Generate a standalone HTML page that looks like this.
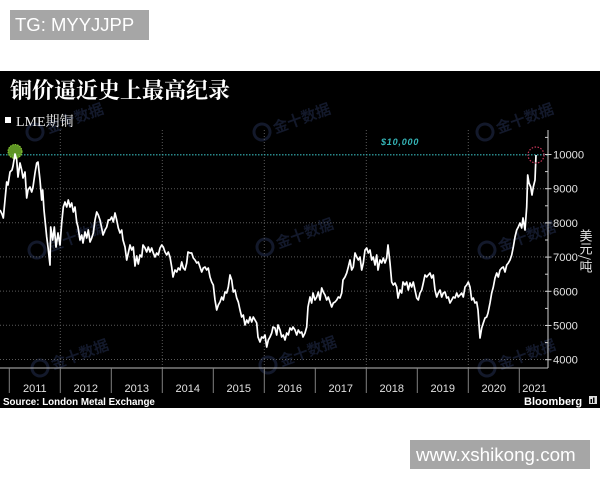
<!DOCTYPE html>
<html>
<head>
<meta charset="utf-8">
<style>
  html,body{margin:0;padding:0;background:#fff;}
  body{width:600px;height:480px;position:relative;overflow:hidden;}
  .tg{position:absolute;left:10px;top:10px;width:139px;height:30px;background:#a6a6a6;color:#fff;
      font-family:"Liberation Sans",sans-serif;font-size:18.5px;line-height:30px;box-sizing:border-box;padding-left:5px;white-space:nowrap;}
  .www{position:absolute;left:410px;top:440px;width:180px;height:29px;background:#a6a6a6;color:#fff;
      font-family:"Liberation Sans",sans-serif;font-size:18.8px;line-height:29px;box-sizing:border-box;padding-left:6px;white-space:nowrap;}
  svg{position:absolute;left:0;top:0;}
</style>
</head>
<body>
<div class="tg">TG: MYYJJPP</div>
<svg width="600" height="480" viewBox="0 0 600 480" xmlns="http://www.w3.org/2000/svg">
  <rect x="0" y="71" width="600" height="337" fill="#000"/>

  <!-- watermarks -->
  <g fill="#161c30" stroke="none" font-family="'Noto Sans CJK SC',sans-serif" font-size="15" font-weight="700" opacity="0.9">
    <g transform="translate(35,132) rotate(-20)"><circle cx="0" cy="0" r="8" fill="none" stroke="#161c30" stroke-width="3"/><text x="12" y="6">金十数据</text></g>
    <g transform="translate(262,132) rotate(-20)"><circle cx="0" cy="0" r="8" fill="none" stroke="#161c30" stroke-width="3"/><text x="12" y="6">金十数据</text></g>
    <g transform="translate(485,132) rotate(-20)"><circle cx="0" cy="0" r="8" fill="none" stroke="#161c30" stroke-width="3"/><text x="12" y="6">金十数据</text></g>
    <g transform="translate(37,250) rotate(-20)"><circle cx="0" cy="0" r="8" fill="none" stroke="#161c30" stroke-width="3"/><text x="12" y="6">金十数据</text></g>
    <g transform="translate(265,247) rotate(-20)"><circle cx="0" cy="0" r="8" fill="none" stroke="#161c30" stroke-width="3"/><text x="12" y="6">金十数据</text></g>
    <g transform="translate(487,250) rotate(-20)"><circle cx="0" cy="0" r="8" fill="none" stroke="#161c30" stroke-width="3"/><text x="12" y="6">金十数据</text></g>
    <g transform="translate(40,368) rotate(-20)"><circle cx="0" cy="0" r="8" fill="none" stroke="#161c30" stroke-width="3"/><text x="12" y="6">金十数据</text></g>
    <g transform="translate(268,365) rotate(-20)"><circle cx="0" cy="0" r="8" fill="none" stroke="#161c30" stroke-width="3"/><text x="12" y="6">金十数据</text></g>
    <g transform="translate(487,368) rotate(-20)"><circle cx="0" cy="0" r="8" fill="none" stroke="#161c30" stroke-width="3"/><text x="12" y="6">金十数据</text></g>
  </g>

  <!-- title -->
  <text x="10" y="98" fill="#fff" font-family="'Noto Serif CJK SC','Noto Sans CJK SC',serif" font-weight="700" font-size="22">铜价逼近史上最高纪录</text>
  <!-- legend -->
  <rect x="5" y="117" width="6" height="6" fill="#fff"/>
  <text x="16" y="126" fill="#eee" font-family="'Liberation Serif','Noto Serif CJK SC',serif" font-size="14">LME期铜</text>

  <!-- grid horizontal -->
  <g stroke="#5a5a5a" stroke-width="1" stroke-dasharray="1 2">
    <line x1="0" y1="188.7" x2="548" y2="188.7"/>
    <line x1="0" y1="222.7" x2="548" y2="222.7"/>
    <line x1="0" y1="256.9" x2="548" y2="256.9"/>
    <line x1="0" y1="291.1" x2="548" y2="291.1"/>
    <line x1="0" y1="325.3" x2="548" y2="325.3"/>
    <line x1="0" y1="359.5" x2="548" y2="359.5"/>
    <line x1="60.3" y1="130" x2="60.3" y2="368"/>
    <line x1="162.3" y1="130" x2="162.3" y2="368"/>
    <line x1="264.3" y1="130" x2="264.3" y2="368"/>
    <line x1="366.3" y1="130" x2="366.3" y2="368"/>
    <line x1="468.3" y1="130" x2="468.3" y2="368"/>
  </g>
  <!-- 10000 teal line -->
  <line x1="0" y1="154.8" x2="548" y2="154.8" stroke="#35b6b8" stroke-width="1.2" stroke-dasharray="1.5 1.5"/>
  <text x="381" y="145" fill="#35b6b8" font-family="'Liberation Sans',sans-serif" font-size="9" font-weight="700" font-style="italic" letter-spacing="0.8">$10,000</text>

  <!-- axes -->
  <line x1="548" y1="130" x2="548" y2="368" stroke="#cfcfcf" stroke-width="1"/>
  <line x1="0" y1="368" x2="548" y2="368" stroke="#bdbdbd" stroke-width="1"/>
  <g stroke="#cfcfcf" stroke-width="1">
    <line x1="545" y1="154.5" x2="551.5" y2="154.5"/>
    <line x1="545" y1="188.7" x2="551.5" y2="188.7"/>
    <line x1="545" y1="222.9" x2="551.5" y2="222.9"/>
    <line x1="545" y1="257.1" x2="551.5" y2="257.1"/>
    <line x1="545" y1="291.3" x2="551.5" y2="291.3"/>
    <line x1="545" y1="325.5" x2="551.5" y2="325.5"/>
    <line x1="545" y1="359.7" x2="551.5" y2="359.7"/>
    <line x1="545" y1="137.4" x2="548" y2="137.4"/>
    <line x1="545" y1="171.6" x2="548" y2="171.6"/>
    <line x1="545" y1="205.8" x2="548" y2="205.8"/>
    <line x1="545" y1="240" x2="548" y2="240"/>
    <line x1="545" y1="274.2" x2="548" y2="274.2"/>
    <line x1="545" y1="308.4" x2="548" y2="308.4"/>
    <line x1="545" y1="342.6" x2="548" y2="342.6"/>
  </g>
  <g fill="#e2e2e2" font-family="'Liberation Sans',sans-serif" font-size="11.2">
    <text x="553" y="158.5">10000</text>
    <text x="553" y="192.7">9000</text>
    <text x="553" y="226.9">8000</text>
    <text x="553" y="261.1">7000</text>
    <text x="553" y="295.3">6000</text>
    <text x="553" y="329.5">5000</text>
    <text x="553" y="363.7">4000</text>
  </g>
  <text x="586" y="229" fill="#e2e2e2" font-family="'Noto Sans CJK SC',sans-serif" font-size="13" style="writing-mode:vertical-rl;" text-anchor="start">美元/吨</text>

  <!-- year ticks -->
  <g stroke="#808080" stroke-width="1">
    <line x1="9.3" y1="368" x2="9.3" y2="393"/>
    <line x1="60.3" y1="368" x2="60.3" y2="393"/>
    <line x1="111.3" y1="368" x2="111.3" y2="393"/>
    <line x1="162.3" y1="368" x2="162.3" y2="393"/>
    <line x1="213.3" y1="368" x2="213.3" y2="393"/>
    <line x1="264.3" y1="368" x2="264.3" y2="393"/>
    <line x1="315.3" y1="368" x2="315.3" y2="393"/>
    <line x1="366.3" y1="368" x2="366.3" y2="393"/>
    <line x1="417.3" y1="368" x2="417.3" y2="393"/>
    <line x1="468.3" y1="368" x2="468.3" y2="393"/>
    <line x1="519.3" y1="368" x2="519.3" y2="393"/>
  </g>
  <g fill="#e2e2e2" font-family="'Liberation Sans',sans-serif" font-size="11" text-anchor="middle">
    <text x="34.8" y="392">2011</text>
    <text x="85.8" y="392">2012</text>
    <text x="136.8" y="392">2013</text>
    <text x="187.8" y="392">2014</text>
    <text x="238.8" y="392">2015</text>
    <text x="289.8" y="392">2016</text>
    <text x="340.8" y="392">2017</text>
    <text x="391.8" y="392">2018</text>
    <text x="442.8" y="392">2019</text>
    <text x="493.8" y="392">2020</text>
    <text x="534.5" y="392">2021</text>
  </g>

  <!-- green circle -->
  <circle cx="15" cy="151.5" r="7" fill="#6fae2a" fill-opacity="0.85" stroke="#8fcf3a" stroke-width="1" stroke-dasharray="1.5 1"/>

  <!-- price line -->
  <polyline fill="none" stroke="#fff" stroke-width="1.7" stroke-linejoin="round" points="
0,210 2,214 3.3,218 5,200 6.7,182 8,185 10,172 12,170 13,166 14,160 15,154 16.7,160 18,177 20,163 21.7,170 23,178 25,172 26.7,198 28,190 30,187 31.7,192 33,187 35,173 36.7,163 38,162 40,180 41.7,200 42.7,190 44,210 46.7,237 48,247 50,265 50.7,227 52.7,240 54.3,227 56,247 58,233 60,245 61.7,223 63.3,207 65,202 66.7,207 68.3,200 70,207 71.7,203 73.3,212 75,207 76.7,222 78,227 80,240 81.7,235 83,243 85,232 86.7,238 88.3,230 90,242 91.7,238 93.3,233 95,220 96.7,212 98.3,215 100,220 101.7,228 103,235 105,230 106.7,227 108.3,220 110,220 111.7,217 113.3,222 115,213 116.7,220 118.3,228 120,233 121.7,230 123,240 125,247 126.7,260 128.3,253
130,245 131.7,250 133.3,247 135,266 136.7,256 138.3,264 140,255 141.7,257 143,245 145,248 146.7,252 148.3,247 150,252 151.7,248 153.3,253 155,257 156.7,253 158.3,255 160,248 161.7,245 163.3,247 165,252 166.7,255 168.3,252 170,257 171.7,267 173,277 175,270 176.7,272 178.3,268 180,270 181.7,262 183.3,268 185,270 186.7,263 188,252 190,253 191.7,253 193.3,258 195,260 196.7,263 198.3,262 200,267 201.7,272 203.3,268 205,267 206.7,270 208.3,268 210,277 211.7,282 213.3,285 215,300 216.7,310 218.3,305 220,302 221.7,297 223.3,300 225,292 226.7,293 228.3,287 230,275 231.7,280 233.3,292 235,290 236.7,298 238.3,302 240,310 241.7,317 243.3,315 245,325 246.7,320 248.3,323 250,317 251.7,322 253.3,317 255,320 256.7,323 258,337 260,342 261.7,337 263.3,338 265,335 266.7,347 268.3,340
270,337 271.7,333 273,327 275,328 276.7,335 278,325 280,330 281.7,337 283.3,335 285,340 286.7,333 288.3,335 290,328 291.7,330 293,327 295,330 296.7,335 298.3,330 300,333 301.7,332 303,337 305,333 306.7,327 308,307 310,297 311.7,303 313,293 315,300 316.7,297 318.3,292 320,300 321.7,288 323.3,292 325,295 326.7,300 328.3,297 330,302 331.7,307 333.3,303 335,302 336.7,300 338.3,297 340,298 341.7,293 343,280 345,277 346.7,273 348.3,267 350,260 351.7,270 353.3,267 355,253 356.7,257 358.3,260 360,257 361.7,270 363.3,263 365,250 366.7,248 368.3,253 370,250 371.7,260 373.3,257 375,265 376.7,255 378,270 380,260 381.7,263 383.3,258 385,263 386.7,258 388,245 390,263 391.7,282 393.3,285 395,283 396.7,287 398,298
400,290 401.7,293 403,282 405,285 406.7,282 408.3,290 410,283 411.7,287 413.3,282 415,290 416.7,298 418.3,300 420,293 421.7,290 423.3,283 425,275 426.7,277 428.3,275 430,273 431.7,278 433.3,275 435,290 436.7,297 438.3,293 440,290 441.7,297 443.3,293 445,292 446.7,298 448.3,297 450,303 451.7,300 453.3,297 455,298 456.7,293 458.3,297 460,295 461.7,293 463.3,297 465,287 466.7,285 468.3,282 470,287 471.7,300 473.3,298 475,303 476.7,302 478,310 480,338 481.7,328 483.3,323 485,318 486.7,317 488,313 490,303 491.7,293 493.3,287 495,278 496.7,273 498.3,277 500,270 501.7,268 503.3,267 505,272 506.7,265 508.3,263 510,260 511.7,255 513.3,247 515,237 516.7,230 518.3,227 520,223 521.7,228 523,218 525,230 526.7,207 527.7,175 529,183 530.7,187 532,195 533.3,187 535,180 536,155"/>

  <!-- red dotted circle -->
  <circle cx="536" cy="155" r="8" fill="none" stroke="#c8365a" stroke-width="1.2" stroke-dasharray="1.5 1.5"/>

  <!-- footer -->
  <text x="3" y="405" fill="#fff" font-family="'Liberation Sans',sans-serif" font-size="9.8" font-weight="700">Source: London Metal Exchange</text>
  <text x="524" y="405" fill="#fff" font-family="'Liberation Sans',sans-serif" font-size="11" font-weight="700">Bloomberg</text>
  <rect x="589" y="396" width="8" height="8" fill="#ddd"/>
  <rect x="590.5" y="399" width="1.5" height="4" fill="#000"/>
  <rect x="593" y="397.5" width="1.5" height="5.5" fill="#000"/>
</svg>
<div class="www">www.xshikong.com</div>
</body>
</html>
